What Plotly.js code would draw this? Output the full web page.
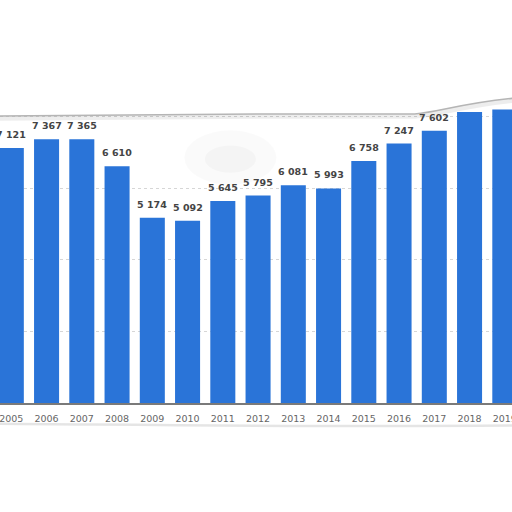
<!DOCTYPE html>
<html>
<head>
<meta charset="utf-8">
<script src="https://cdn.plot.ly/plotly-3.0.1.min.js"></script>
<style>
  html, body { margin: 0; padding: 0; background: #fff; }
  #chart { width: 512px; height: 512px; }
</style>
</head>
<body>
<div id="chart"></div>
<script>
"use strict";

// Data (2018/2019 labels are hidden by the torn edge)
const years = ["2005", "2006", "2007", "2008", "2009", "2010", "2011", "2012",
               "2013", "2014", "2015", "2016", "2017", "2018", "2019"];
const values = [7121, 7367, 7365, 6610, 5174, 5092, 5645, 5795,
                6081, 5993, 6758, 7247, 7602, 8130, 8200];
const labelledCount = 13;

const BAR = "#2a74d8";
const FONT = "'DejaVu Sans', Verdana, sans-serif";

const fmt = (v) => String(v).replace(/\B(?=(\d{3})+(?!\d))/g, " ");

const traces = [
  {
    type: "bar",
    x: years,
    y: values,
    marker: { color: BAR },
    hoverinfo: "skip",
  },
];

/* ── value labels above the bars ───────────────────────────────────── */
// category axis: annotations take the category index, not the name
const annotations = years.slice(0, labelledCount).map((yr, i) => ({
  x: i,
  y: values[i],
  xref: "x",
  yref: "y",
  text: "<b>" + fmt(values[i]) + "</b>",
  showarrow: false,
  yanchor: "bottom",
  yshift: 6,
  font: { family: FONT, size: 9.5, color: "#444" },
}));

/* ── torn-paper edges ─────────────────────────────────────────────────── */
const shapes = [
  {
    type: "circle",
    xref: "paper", yref: "paper",
    x0: 0.36, x1: 0.54, y0: 0.72, y1: 0.90,
    fillcolor: "rgba(0,0,0,0.018)",
    line: { width: 0 },
    layer: "below",
  },
  {
    type: "circle",
    xref: "paper", yref: "paper",
    x0: 0.40, x1: 0.50, y0: 0.76, y1: 0.85,
    fillcolor: "rgba(0,0,0,0.025)",
    line: { width: 0 },
    layer: "below",
  },
  {
    type: "path",
    xref: "paper", yref: "paper",
    path: "M -0.01,0.940 L 0.5,0.946 L 0.81,0.946 C 0.86,0.952 0.9,0.982 1.01,1.0 ",
    line: { color: "rgba(0,0,0,0.07)", width: 5 },
    layer: "above",
  },
  {
    type: "path",
    xref: "paper", yref: "paper",
    path: "M -0.01,0.947 L 0.5,0.954 L 0.81,0.954 C 0.86,0.96 0.9,0.99 1.01,1.007 " +
          "L 1.01,1.4 L -0.01,1.4 Z",
    fillcolor: "#ffffff",
    line: { color: "#b5b5b5", width: 1.5 },
    layer: "above",
  },
  {
    type: "path",
    xref: "paper", yref: "paper",
    path: "M -0.01,-0.068 C 0.3,-0.072 0.6,-0.080 1.01,-0.074",
    line: { color: "rgba(0,0,0,0.10)", width: 2.5 },
    layer: "above",
  },
];

const layout = {
  width: 512,
  height: 512,
  paper_bgcolor: "#ffffff",
  plot_bgcolor: "#ffffff",
  margin: { t: 100, r: 0, b: 109, l: 0 },
  showlegend: false,
  bargap: 0.29,
  font: { family: FONT, size: 9.5, color: "#666" },
  xaxis: {
    type: "category",
    range: [-0.321, 14.204],
    showgrid: false,
    showline: true,
    linecolor: "#7a7a7a",
    linewidth: 1.5,
    ticks: "",
    ticklabelstandoff: 6,
    tickfont: { family: FONT, size: 9.5, color: "#666" },
    fixedrange: true,
  },
  yaxis: {
    range: [0, 8464],
    tickvals: [0, 2000, 4000, 6000, 8000],
    showticklabels: false,
    showgrid: true,
    gridcolor: "#d6d6d6",
    griddash: "dot",
    gridwidth: 1,
    zeroline: false,
    fixedrange: true,
  },
  annotations: annotations,
  shapes: shapes,
};

Plotly.newPlot("chart", traces, layout, { displayModeBar: false, staticPlot: true });
</script>
</body>
</html>
